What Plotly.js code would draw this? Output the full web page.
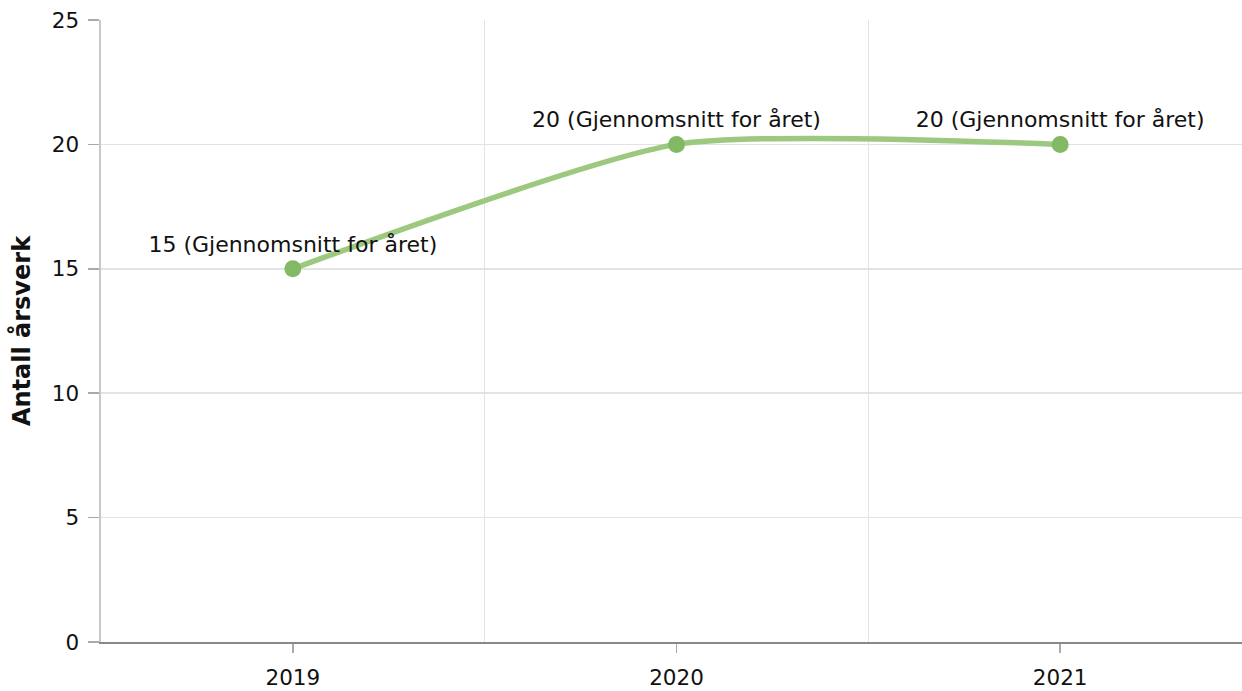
<!DOCTYPE html>
<html>
<head>
<meta charset="utf-8">
<script src="https://cdn.plot.ly/plotly-3.0.1.min.js"></script>
<style>
html,body{margin:0;padding:0;background:#fff;overflow:hidden;}
#chart{width:1252px;height:691px;}
</style>
</head>
<body>
<div id="chart"></div>
<script>
const categories = ["2019", "2020", "2021"];
const values = [15, 20, 20];
const labels = ["15 (Gjennomsnitt for året)", "20 (Gjennomsnitt for året)", "20 (Gjennomsnitt for året)"];
const yTicks = [0, 5, 10, 15, 20, 25];
const yTitle = "Antall årsverk";

const font = "DejaVu Sans, Verdana, sans-serif";
const xIdx = categories.map((c, i) => i);

const traces = [
  {
    x: xIdx, y: values, type: "scatter", mode: "lines+markers+text",
    line: {shape: "spline", smoothing: 0.6, color: "#9cc97f", width: 5.5},
    marker: {size: 17, color: "#82b964"},
    text: labels, textposition: "top center",
    textfont: {family: font, size: 22, color: "#111"},
    cliponaxis: false, hoverinfo: "skip", showlegend: false
  },
  {
    x: [0], y: [0], xaxis: "x2", type: "scatter", mode: "markers",
    marker: {opacity: 0}, hoverinfo: "skip", showlegend: false
  }
];

const layout = {
  width: 1252, height: 691,
  margin: {l: 101, r: 0, t: 20, b: 49},
  paper_bgcolor: "#fff", plot_bgcolor: "#fff",
  font: {family: font, size: 21, color: "#111"},
  xaxis: {
    range: [-0.5, 2.5], tickvals: xIdx, ticktext: categories,
    showgrid: false, zeroline: false,
    ticks: "outside", ticklen: 9, tickcolor: "#aaa", tickwidth: 1.5,
    ticklabelstandoff: 6,
    showline: true, linecolor: "#888", linewidth: 2,
    tickfont: {family: font, size: 21.5, color: "#111"}
  },
  xaxis2: {
    overlaying: "x", range: [-0.5, 2.5], tickvals: [0.5, 1.5],
    showticklabels: false, ticks: "", showgrid: true, gridcolor: "#e3e3e3", gridwidth: 1.5,
    zeroline: false, showline: false
  },
  yaxis: {
    range: [0, 25], tickvals: yTicks, ticktext: yTicks.map(String),
    showgrid: true, gridcolor: "#e3e3e3", gridwidth: 1.5, zeroline: false,
    ticks: "outside", ticklen: 11, tickcolor: "#aaa", tickwidth: 1.5,
    ticklabelstandoff: 4,
    showline: true, linecolor: "#c8c8c8", linewidth: 2.5,
    tickfont: {family: font, size: 21.5, color: "#111"},
    title: {text: yTitle, font: {family: font, size: 24, color: "#111", weight: "bold"}, standoff: 15}
  }
};

Plotly.newPlot("chart", traces, layout, {displayModeBar: false, staticPlot: true});
</script>
</body>
</html>
